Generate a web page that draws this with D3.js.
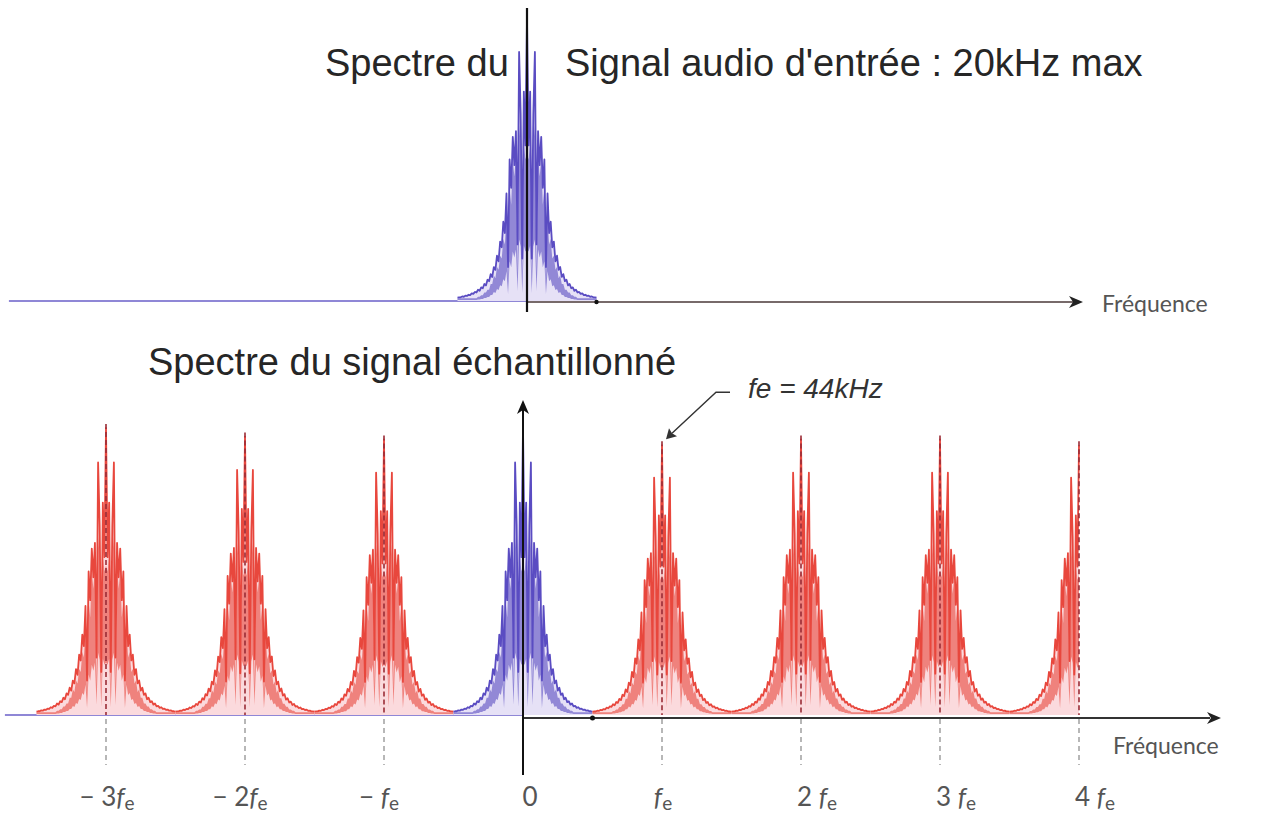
<!DOCTYPE html>
<html>
<head>
<meta charset="utf-8">
<script src="https://cdn.jsdelivr.net/npm/d3@7/dist/d3.min.js"></script>
<style>
  body { margin: 0; background: #fff; }
</style>
</head>
<body>
<div id="chart"></div>
<script>
const width = 1263;
const height = 816;

// sampling frequency, kHz
const fe = 44;

// one side of the audio spectrum (offset from the lobe centre, kHz -> relative level)
const halfOffsets = [0, 0.5, 1, 1.5, 2, 2.5, 3, 3.5, 4, 4.5, 5, 5.5, 6, 6.5, 7, 7.5, 8, 8.5, 9, 9.5,
  10, 10.5, 11, 11.5, 12, 12.5, 13, 13.5, 14, 14.5, 15, 15.5, 16, 16.5, 17, 17.5, 18, 18.5, 19, 19.5,
  20, 20.5, 21, 21.5, 22];
const halfLevels = [1.00, 0.55, 0.74, 0.15, 0.66, 0.88, 0.20, 0.60, 0.48, 0.58, 0.40, 0.50, 0.12, 0.38,
  0.24, 0.28, 0.19, 0.21, 0.14, 0.16, 0.11, 0.12, 0.085, 0.095, 0.07, 0.075, 0.055, 0.06, 0.045, 0.048,
  0.036, 0.04, 0.03, 0.032, 0.025, 0.027, 0.021, 0.022, 0.018, 0.019, 0.015, 0.016, 0.013, 0.013, 0.012];
// level of the dense (solid) part of the spectrum, same offsets
const denseLevels = [0.52, 0.50, 0.56, 0.08, 0.55, 0.62, 0.10, 0.52, 0.44, 0.50, 0.34, 0.40, 0.07, 0.30,
  0.20, 0.22, 0.15, 0.16, 0.11, 0.12, 0.08, 0.09, 0.06, 0.06, 0.04, 0.04, 0.03, 0.03, 0.02, 0.02,
  0.015, 0.015, 0.01, 0.01, 0.01, 0.01, 0.01, 0.01, 0.01, 0.01, 0.01, 0.01, 0.01, 0.01, 0.01];

// images of the spectrum in the sampled signal
const lobeOrders = [-3, -2, -1, 0, 1, 2, 3, 4];
const lobeGains = [1.0, 0.97, 0.96, 1.0, 0.94, 0.96, 0.96, 0.94];
const tickPrefix = ["− 3", "− 2", "− ", "0", "", "2 ", "3 ", "4 "];

const svg = d3.select("#chart")
  .append("svg")
  .attr("width", width)
  .attr("height", height)
  .style("font-family", "'Liberation Sans', Arial, sans-serif");

const x = d3.scaleLinear().domain([-3 * fe, 4 * fe]).range([106, 1079]);
const xTop = d3.scaleLinear().domain([-3 * fe, 4 * fe]).range([110, 1083]);
const yBot = d3.scaleLinear().domain([0, 1]).range([715, 428]);
const yTop = d3.scaleLinear().domain([0, 1]).range([301, 18]);

function lobePoints(order, gain, leftOnly) {
  const c = order * fe;
  const pts = [];
  const add = (f, i) => pts.push({ f: f, a: halfLevels[i] * gain, d: denseLevels[i] * gain });
  for (let i = halfOffsets.length - 1; i > 0; i--) add(c - halfOffsets[i], i);
  add(c, 0);
  if (!leftOnly) {
    for (let i = 1; i < halfOffsets.length; i++) add(c + halfOffsets[i], i);
  }
  return pts;
}

function drawLobe(g, pts, xs, ys, stroke, fill) {
  g.append("path")
    .datum(pts)
    .attr("d", d3.area().x(d => xs(d.f)).y0(ys(0)).y1(d => ys(d.a)))
    .attr("fill", fill);
  g.append("path")
    .datum(pts)
    .attr("d", d3.area().x(d => xs(d.f)).y0(d => ys(d.d * 0.35)).y1(d => ys(d.d)))
    .attr("fill", stroke)
    .attr("opacity", 0.6);
  g.append("path")
    .datum(pts)
    .attr("d", d3.line().x(d => xs(d.f)).y(d => ys(d.a)))
    .attr("fill", "none")
    .attr("stroke", stroke)
    .attr("stroke-width", 1.8)
    .attr("stroke-linejoin", "round");
}

function arrowHead(g, tipX, tipY, dir, color) {
  // dir: "right" or "up"
  const L = 14, W = 6;
  const p = dir === "right"
    ? [[tipX, tipY], [tipX - L, tipY - W], [tipX - L + 4, tipY], [tipX - L, tipY + W]]
    : [[tipX, tipY], [tipX - W, tipY + L], [tipX, tipY + L - 4], [tipX + W, tipY + L]];
  g.append("path").attr("d", "M" + p.join("L") + "Z").attr("fill", color);
}

const blueStroke = "#5a4cc2", blueFill = "#e6e1f6";
const redStroke = "#e8473d", redFill = "#fbdadd";

// ---------- top panel : input audio signal ----------
const gTop = svg.append("g");

gTop.append("line")
  .attr("x1", xTop(-164)).attr("x2", xTop(0))
  .attr("y1", yTop(0)).attr("y2", yTop(0))
  .attr("stroke", "#6a5fc8").attr("stroke-width", 1.5);
gTop.append("line")
  .attr("x1", xTop(0)).attr("x2", xTop(4 * fe) - 8)
  .attr("y1", yTop(0) + 1).attr("y2", yTop(0) + 1)
  .attr("stroke", "#4a3838").attr("stroke-width", 1.5);
arrowHead(gTop, xTop(4 * fe), yTop(0) + 1, "right", "#222");

drawLobe(gTop, lobePoints(0, 1, false), xTop, yTop, blueStroke, blueFill);

gTop.append("line")
  .attr("x1", xTop(0)).attr("x2", xTop(0))
  .attr("y1", 8).attr("y2", yTop(0) + 11)
  .attr("stroke", "#111").attr("stroke-width", 2.2);

gTop.append("circle").attr("cx", xTop(fe / 2)).attr("cy", yTop(0) + 1).attr("r", 2.2).attr("fill", "#111");

gTop.append("text").attr("x", 325).attr("y", 76)
  .attr("font-size", 38).attr("fill", "#262626").text("Spectre du");
gTop.append("text").attr("x", 565).attr("y", 76)
  .attr("font-size", 38).attr("fill", "#262626").text("Signal audio d'entrée : 20kHz max");
gTop.append("text").attr("x", 1102).attr("y", 312)
  .attr("font-family", "Lato, 'Open Sans', sans-serif")
  .attr("font-size", 23).attr("fill", "#555").text("Fréquence");

// ---------- bottom panel : sampled signal ----------
const gBot = svg.append("g");

gBot.append("line")
  .attr("x1", x(-164)).attr("x2", x(0))
  .attr("y1", yBot(0)).attr("y2", yBot(0))
  .attr("stroke", "#6a5fc8").attr("stroke-width", 1.5);

lobeOrders.forEach((k, i) => {
  const isBase = k === 0;
  drawLobe(gBot, lobePoints(k, lobeGains[i], k === 4), x, yBot,
    isBase ? blueStroke : redStroke, isBase ? blueFill : redFill);
});

// dashed lines at multiples of fe
lobeOrders.forEach((k, i) => {
  if (k === 0) return;
  const cx = x(k * fe);
  gBot.append("line")
    .attr("x1", cx).attr("x2", cx)
    .attr("y1", yBot(lobeGains[i]) - 4).attr("y2", yBot(0))
    .attr("stroke", "#9a2c36").attr("stroke-width", 1.6)
    .attr("stroke-dasharray", "5,3");
  gBot.append("line")
    .attr("x1", cx).attr("x2", cx)
    .attr("y1", yBot(0) + 4).attr("y2", yBot(0) + 50)
    .attr("stroke", "#888").attr("stroke-width", 1.2)
    .attr("stroke-dasharray", "5,4");
});

// axes
gBot.append("line")
  .attr("x1", x(0)).attr("x2", x(5 * fe) - 8)
  .attr("y1", yBot(0) + 3).attr("y2", yBot(0) + 3)
  .attr("stroke", "#333").attr("stroke-width", 2);
arrowHead(gBot, x(5 * fe) + 3, yBot(0) + 3, "right", "#222");

gBot.append("line")
  .attr("x1", x(0)).attr("x2", x(0))
  .attr("y1", 406).attr("y2", yBot(0) + 60)
  .attr("stroke", "#111").attr("stroke-width", 2);
arrowHead(gBot, x(0), 400, "up", "#111");

gBot.append("circle").attr("cx", x(fe / 2)).attr("cy", yBot(0) + 3).attr("r", 2.5).attr("fill", "#111");

// tick labels
lobeOrders.forEach((k, i) => {
  const shift = k >= 2 ? 16 : (k === 0 ? 7 : (k === -1 || k === -2 ? -5 : 1));
  const t = gBot.append("text")
    .attr("x", x(k * fe) + shift).attr("y", 806)
    .attr("text-anchor", "middle")
    .attr("font-family", "Lato, 'Open Sans', sans-serif")
    .attr("font-size", 26).attr("fill", "#555");
  t.append("tspan").text(tickPrefix[i]);
  if (k !== 0) {
    t.append("tspan").attr("font-style", "italic").text("f");
    t.append("tspan").attr("font-size", 19).attr("dy", 4).text("e");
  }
});

gBot.append("text").attr("x", 1113).attr("y", 754)
  .attr("font-family", "Lato, 'Open Sans', sans-serif")
  .attr("font-size", 23).attr("fill", "#555").text("Fréquence");

gBot.append("text").attr("x", 148).attr("y", 375)
  .attr("font-size", 38).attr("fill", "#262626").text("Spectre du signal échantillonné");

// fe annotation
const tipX = x(fe) + 4, tipY = yBot(lobeGains[4]) - 6;
gBot.append("path")
  .attr("d", `M${tipX + 64},${tipY - 47}L${tipX + 50},${tipY - 47}L${tipX + 6},${tipY - 6}`)
  .attr("fill", "none").attr("stroke", "#333").attr("stroke-width", 1.4);
gBot.append("path")
  .attr("d", `M${tipX},${tipY}L${tipX + 3},${tipY - 11}L${tipX + 6},${tipY - 6}L${tipX + 11},${tipY - 3}Z`)
  .attr("fill", "#333");
gBot.append("text").attr("x", 748).attr("y", 398)
  .attr("font-size", 28).attr("font-style", "italic").attr("fill", "#333")
  .text("fe = 44kHz");
</script>
</body>
</html>
